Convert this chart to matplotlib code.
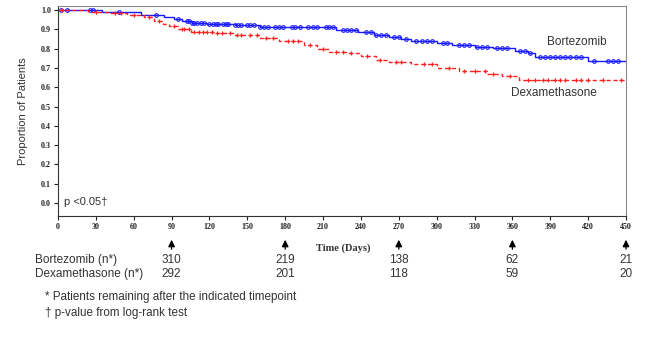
import numpy as np
import matplotlib
matplotlib.use("Agg")
import matplotlib.pyplot as plt
import matplotlib.transforms as mtrans

# ---- data ----
bort_t = [0, 35, 66, 84, 92, 98, 106, 118, 140, 160, 220, 238, 250, 262, 272, 280, 300, 312, 330, 345, 362, 372, 378, 420, 450]
bort_s = [1.0, 0.99, 0.975, 0.962, 0.952, 0.942, 0.935, 0.928, 0.92, 0.91, 0.897, 0.885, 0.872, 0.862, 0.85, 0.838, 0.83, 0.82, 0.81, 0.805, 0.79, 0.775, 0.758, 0.735, 0.735]
bort_cens = [2, 7, 25, 28, 48, 78, 95, 102, 104, 106, 108, 110, 113, 116, 120, 123, 125, 127, 131, 133, 135,
             140, 143, 145, 150, 152, 155, 160, 163, 166, 172, 175, 178, 185, 188, 192, 198, 202, 205, 212,
             215, 218, 226, 229, 232, 236, 244, 248, 252, 256, 260, 266, 270, 276, 284, 288, 292, 296, 305,
             308, 318, 322, 326, 332, 336, 340, 348, 352, 356, 366, 370, 374, 382, 386, 390, 394, 398, 402,
             406, 410, 414, 425, 436, 440, 444]

dexa_t = [0, 24, 40, 55, 68, 76, 83, 88, 95, 105, 125, 140, 160, 175, 195, 205, 215, 228, 240, 252, 262, 280, 300, 318, 340, 352, 365, 450]
dexa_s = [1.0, 0.99, 0.985, 0.975, 0.963, 0.945, 0.93, 0.915, 0.9, 0.888, 0.88, 0.87, 0.857, 0.84, 0.82, 0.80, 0.785, 0.775, 0.76, 0.74, 0.73, 0.72, 0.70, 0.685, 0.67, 0.66, 0.64, 0.64]
dexa_cens = [3, 30, 45, 50, 60, 72, 80, 92, 98, 100, 104, 108, 112, 115, 118, 122, 126, 130, 136, 142, 145,
             152, 158, 165, 170, 182, 186, 190, 200, 210, 220, 226, 232, 245, 255, 268, 272, 290, 296, 310,
             322, 330, 338, 345, 358, 372, 378, 384, 388, 394, 398, 402, 410, 414, 420, 432, 446]

risk_days = [90, 180, 270, 360, 450]
bort_n = [310, 219, 138, 62, 21]
dexa_n = [292, 201, 118, 59, 20]

xticks = list(range(0, 451, 30))
yticks = [0.0, 0.1, 0.2, 0.3, 0.4, 0.5, 0.6, 0.7, 0.8, 0.9, 1.0]

BLUE = "#1a1aff"
RED = "#ff2020"
TXT = "#333333"


def surv_at(t_arr, s_arr, t):
    i = np.searchsorted(t_arr, t, side="right") - 1
    return np.asarray(s_arr)[i]


fig = plt.figure(figsize=(6.5, 3.37), dpi=100)
W, H = 650, 337
ax = fig.add_axes([58 / W, 1 - 216 / H, (626 - 58) / W, (216 - 6) / H])

ax.step(bort_t, bort_s, where="post", color=BLUE, lw=1.0)
ax.plot(bort_cens, surv_at(bort_t, bort_s, bort_cens), ls="none", marker="o", ms=2.6,
        mfc="none", mec=BLUE, mew=0.8)
ax.step(dexa_t, dexa_s, where="post", color=RED, lw=1.0, ls=(0, (3, 2)))
ax.plot(dexa_cens, surv_at(dexa_t, dexa_s, dexa_cens), ls="none", marker="+", ms=3.2,
        mec=RED, mew=0.9)

ax.set_xlim(0, 450)
ax.set_ylim(-0.067, 1.021)
ax.set_xticks(xticks)
ax.set_yticks(yticks)
ax.set_xticklabels([str(v) for v in xticks], fontsize=5.8, family="Liberation Serif", weight="bold")
ax.set_yticklabels([f"{v:.1f}" for v in yticks], fontsize=5.8, family="Liberation Serif", weight="bold")
ax.tick_params(length=3, width=0.8, pad=2, colors="#222222")
for s in ["left", "bottom"]:
    ax.spines[s].set_color("#333333")
for s in ["top", "right"]:
    ax.spines[s].set_color("#888888")

ax.set_ylabel("Proportion of Patients", fontsize=8, family="Liberation Sans", color=TXT)
ax.yaxis.set_label_coords(-30 / (626 - 58), 0.5)

ax.text(5, 0.005, "p <0.05\u2020", fontsize=8, family="Liberation Sans", color=TXT, va="center")

fig.text(577 / W, 1 - 42 / H, "Bortezomib", fontsize=8.5, family="Liberation Sans",
         color=TXT, ha="center", va="center")
fig.text(554 / W, 1 - 93 / H, "Dexamethasone", fontsize=8.5, family="Liberation Sans",
         color=TXT, ha="center", va="center")

fig.text(343 / W, 1 - 248 / H, "Time (Days)", fontsize=7.5, family="Liberation Serif",
         weight="bold", color=TXT, ha="center", va="center")

trans = mtrans.blended_transform_factory(ax.transData, fig.transFigure)
for d, nb, nd in zip(risk_days, bort_n, dexa_n):
    ax.annotate("", xy=(d, 1 - 237 / H), xytext=(d, 1 - 252 / H), xycoords=trans, textcoords=trans,
                arrowprops=dict(arrowstyle="-|>,head_length=0.4,head_width=0.2", color="black", lw=0.9),
                annotation_clip=False)
    ax.text(d, 1 - 260 / H, str(nb), transform=trans, fontsize=8.5, family="Liberation Sans",
            color=TXT, ha="center", va="center")
    ax.text(d, 1 - 274 / H, str(nd), transform=trans, fontsize=8.5, family="Liberation Sans",
            color=TXT, ha="center", va="center")

fig.text(35 / W, 1 - 260 / H, "Bortezomib (n*)", fontsize=8.5, family="Liberation Sans",
         color=TXT, ha="left", va="center")
fig.text(35 / W, 1 - 274 / H, "Dexamethasone (n*)", fontsize=8.5, family="Liberation Sans",
         color=TXT, ha="left", va="center")

fig.text(45 / W, 1 - 297 / H, "* Patients remaining after the indicated timepoint", fontsize=8.4,
         family="Liberation Sans", color=TXT, ha="left", va="center")
fig.text(45 / W, 1 - 313 / H, "\u2020 p-value from log-rank test", fontsize=8.4,
         family="Liberation Sans", color=TXT, ha="left", va="center")

fig.savefig("out.png", dpi=100)
